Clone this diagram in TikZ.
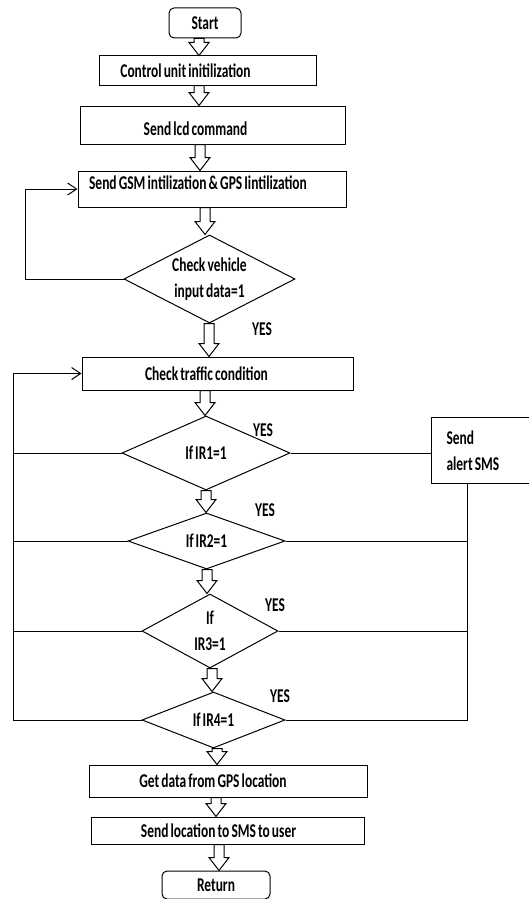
\documentclass[tikz,border=0pt]{standalone}
\usepackage{fontspec}
\setmainfont{Carlito}[FakeStretch=0.69, WordSpace=0.69]
\usetikzlibrary{shapes.geometric,arrows.meta,calc}

\newcommand{\blockarrow}[3]{%
  \coordinate (ba-x) at (#3,0);
  \path (#1.south -| ba-x) coordinate (ba-s) (#2.north -| ba-x) coordinate (ba-e);
  \draw[fill=white] ($(ba-s)+(-5,0)$) -- ($(ba-e)+(-5,-13)$)
    -- ($(ba-e)+(-10,-13)$) -- (ba-e) -- ($(ba-e)+(10,-13)$)
    -- ($(ba-e)+(5,-13)$) -- ($(ba-s)+(5,0)$) -- cycle;}

\begin{document}
\begin{tikzpicture}[x=1pt, y=-1pt, line width=1pt,
    font=\bfseries\fontsize{19.5}{26}\selectfont,
    term/.style={draw, rounded corners=5pt, inner sep=0pt},
    box/.style={draw, inner sep=0pt},
    textleft/.style={execute at begin node={\hspace*{-#1pt}}},
    cond/.style={draw, diamond, aspect=2, inner sep=0pt, align=center},
    back/.style={-{Straight Barb[length=9pt,width=12pt]}}]
\useasboundingbox (0,0) rectangle (529,899);

\node[term, minimum width=72, minimum height=30] (start) at (205,23) {Start};
\node[box, minimum width=217, minimum height=29, textleft=44] (ctrl) at (207.5,70.5) {Control unit initilization};
\node[box, minimum width=265, minimum height=38, textleft=34, text height=26pt, text depth=5pt] (lcd) at (212.5,125) {Send lcd command};
\node[box, minimum width=268, minimum height=36, textleft=28, text height=14pt, text depth=14pt] (gsm) at (212,189) {Send GSM intilization \& GPS Iintilization};
\node[cond, minimum width=171, minimum height=88] (chk) at (209.5,279) {Check vehicle\\input data=1};
\node[box, minimum width=271, minimum height=33, textleft=22] (traffic) at (217.5,373.5) {Check traffic condition};
\node[cond, minimum width=168, minimum height=74] (ir1) at (206,453) {If IR1=1};
\node[cond, minimum width=157, minimum height=56] (ir2) at (206.5,541) {If IR2=1};
\node[cond, minimum width=136, minimum height=74] (ir3) at (210,631) {If\\IR3=1};
\node[cond, minimum width=143, minimum height=56] (ir4) at (213.5,720) {If IR4=1};
\node[box, minimum width=278, minimum height=32, textleft=30] (gps) at (228,781) {Get data from GPS location};
\node[box, minimum width=273, minimum height=27, textleft=18] (loc) at (227.5,830.5) {Send location to SMS to user};
\node[term, minimum width=108, minimum height=28] (ret) at (216,885) {Return};

\node[box, anchor=north west, minimum width=110, minimum height=66,
  text width=80, inner xsep=14pt, align=flush left] (sms) at (431,417) {Send\\alert SMS};

\node (yes1) at (262,329) {YES};
\node (yes2) at (263,430) {YES};
\node (yes3) at (265,510) {YES};
\node (yes4) at (275,605) {YES};
\node (yes5) at (280,696) {YES};

\blockarrow{start}{ctrl}{199}
\blockarrow{ctrl}{lcd}{199}
\blockarrow{lcd}{gsm}{200}
\blockarrow{gsm}{chk}{205}
\blockarrow{chk}{traffic}{209}
\blockarrow{traffic}{ir1}{205}
\blockarrow{ir1}{ir2}{206}
\blockarrow{ir2}{ir3}{207}
\blockarrow{ir3}{ir4}{212}
\blockarrow{ir4}{gps}{217}
\blockarrow{gps}{loc}{216}
\blockarrow{loc}{ret}{219}

\coordinate (loopa) at (25,0);
\coordinate (loopb) at (13,0);
\coordinate (smsline) at (467,0);

\draw[back] (chk.west) -- (chk.west -| loopa) |- (gsm.west);
\draw[back] (ir4.west) -- (ir4.west -| loopb) |- (traffic.west);
\draw (ir1.west) -- (ir1.west -| loopb);
\draw (ir2.west) -- (ir2.west -| loopb);
\draw (ir3.west) -- (ir3.west -| loopb);

\draw (ir1.east) -- (ir1.east -| sms.west);
\draw (sms.south -| smsline) -- (ir4.east -| smsline) -- (ir4.east);
\draw (ir2.east) -- (ir2.east -| smsline);
\draw (ir3.east) -- (ir3.east -| smsline);
\end{tikzpicture}
\end{document}
